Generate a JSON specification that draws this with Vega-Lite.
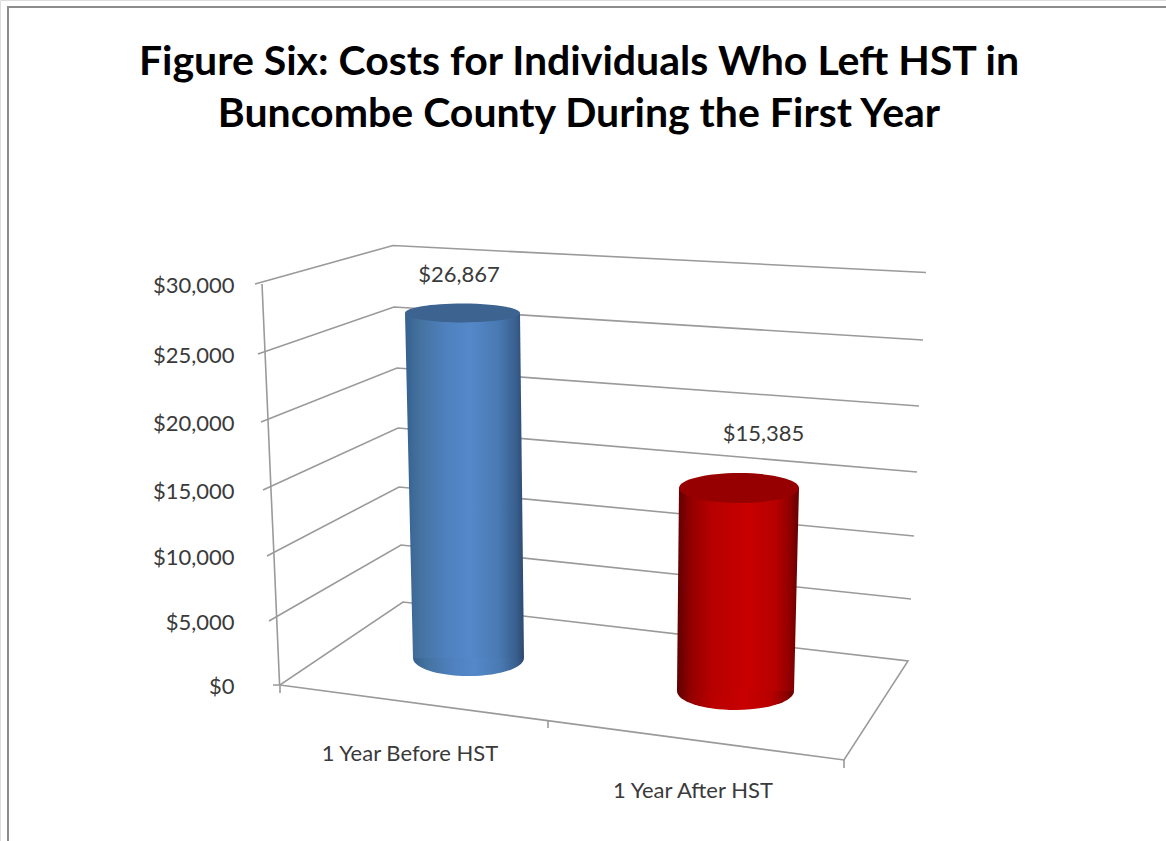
{
  "$schema": "https://vega.github.io/schema/vega-lite/v6.json",
  "width": 1166,
  "height": 841,
  "padding": 0,
  "autosize": {"type": "none"},
  "background": "white",
  "title": {
    "text": ["Figure Six: Costs for Individuals Who Left HST in", "Buncombe County During the First Year"],
    "font": "Lato",
    "fontSize": 41,
    "fontWeight": "bold",
    "color": "#000000",
    "anchor": "middle",
    "frame": "group",
    "baseline": "alphabetic",
    "lineHeight": 52,
    "offset": -168,
    "dx": -4
  },
  "resolve": {"scale": {"y": "independent"}, "axis": {"y": "independent"}},
  "layer": [
    {
      "description": "Chart frame, back walls, floor and category labels in projected sheet coordinates",
      "layer": [
        {
          "data": {"values": [
            {"segment": "frame", "i": 0, "across": 8, "sheet": 841},
            {"segment": "frame", "i": 1, "across": 8, "sheet": 7},
            {"segment": "frame", "i": 2, "across": 1166, "sheet": 7}
          ]},
          "mark": {"type": "line", "stroke": "#8c8c8c", "strokeWidth": 2},
          "encoding": {
            "x": {"field": "across", "type": "quantitative", "scale": {"domain": [0, 1166], "nice": false, "zero": false}, "axis": null},
            "y": {"field": "sheet", "type": "quantitative", "scale": {"domain": [841, 0], "nice": false, "zero": false}, "axis": null},
            "detail": {"field": "segment"},
            "order": {"field": "i"}
          }
        },
        {
          "data": {"values": [
            {"segment": "g30000", "i": 0, "across": 255, "sheet": 284},
            {"segment": "g30000", "i": 1, "across": 393, "sheet": 245.5},
            {"segment": "g30000", "i": 2, "across": 926, "sheet": 272.5},
            {"segment": "g25000", "i": 0, "across": 258, "sheet": 354},
            {"segment": "g25000", "i": 1, "across": 394, "sheet": 307},
            {"segment": "g25000", "i": 2, "across": 923, "sheet": 340},
            {"segment": "g20000", "i": 0, "across": 261, "sheet": 422},
            {"segment": "g20000", "i": 1, "across": 397, "sheet": 368},
            {"segment": "g20000", "i": 2, "across": 919, "sheet": 406},
            {"segment": "g15000", "i": 0, "across": 263, "sheet": 490},
            {"segment": "g15000", "i": 1, "across": 398, "sheet": 428},
            {"segment": "g15000", "i": 2, "across": 917, "sheet": 472},
            {"segment": "g10000", "i": 0, "across": 267, "sheet": 556},
            {"segment": "g10000", "i": 1, "across": 399, "sheet": 487},
            {"segment": "g10000", "i": 2, "across": 914, "sheet": 536},
            {"segment": "g5000", "i": 0, "across": 269, "sheet": 621},
            {"segment": "g5000", "i": 1, "across": 401, "sheet": 545},
            {"segment": "g5000", "i": 2, "across": 911, "sheet": 599},
            {"segment": "floor", "i": 0, "across": 273, "sheet": 685},
            {"segment": "floor", "i": 1, "across": 280, "sheet": 685},
            {"segment": "floor", "i": 2, "across": 403, "sheet": 602},
            {"segment": "floor", "i": 3, "across": 908, "sheet": 661},
            {"segment": "floor", "i": 4, "across": 844, "sheet": 760},
            {"segment": "floor", "i": 5, "across": 280, "sheet": 685},
            {"segment": "tick0", "i": 0, "across": 280, "sheet": 685},
            {"segment": "tick0", "i": 1, "across": 280, "sheet": 693},
            {"segment": "tick1", "i": 0, "across": 548, "sheet": 720},
            {"segment": "tick1", "i": 1, "across": 548, "sheet": 728},
            {"segment": "tick2", "i": 0, "across": 844, "sheet": 760},
            {"segment": "tick2", "i": 1, "across": 844, "sheet": 768}
          ]},
          "mark": {"type": "line", "stroke": "#9a9a9a", "strokeWidth": 1.6},
          "encoding": {
            "x": {"field": "across", "type": "quantitative", "axis": null},
            "y": {"field": "sheet", "type": "quantitative", "axis": null},
            "detail": {"field": "segment"},
            "order": {"field": "i"}
          }
        },
        {
          "data": {"values": [
            {"category": "1 Year Before HST", "across": 410, "sheet": 754},
            {"category": "1 Year After HST", "across": 693, "sheet": 791}
          ]},
          "mark": {"type": "text", "font": "Lato", "fontSize": 22, "color": "#3a3a3a", "align": "center", "baseline": "middle"},
          "encoding": {
            "x": {"field": "across", "type": "quantitative", "axis": null},
            "y": {"field": "sheet", "type": "quantitative", "axis": null},
            "text": {"field": "category"}
          }
        }
      ]
    },
    {
      "description": "Vertical cost axis, foreshortened towards the floor",
      "data": {"values": [
        {"cost": 0, "across": 279.6},
        {"cost": 5000, "across": 276.8},
        {"cost": 10000, "across": 274},
        {"cost": 15000, "across": 271},
        {"cost": 20000, "across": 268.1},
        {"cost": 25000, "across": 265.1},
        {"cost": 30000, "across": 262}
      ]},
      "mark": {"type": "line", "stroke": "#9a9a9a", "strokeWidth": 1.6},
      "encoding": {
        "x": {"field": "across", "type": "quantitative", "axis": null},
        "y": {
          "field": "cost",
          "type": "quantitative",
          "sort": null,
          "scale": {"domain": [0, 5000, 10000, 15000, 20000, 25000, 30000], "range": [685, 621, 556, 490, 422, 354, 284], "nice": false, "zero": false},
          "axis": {
            "orient": "left",
            "values": [0, 5000, 10000, 15000, 20000, 25000, 30000],
            "format": "$,d",
            "title": null,
            "domain": false,
            "ticks": false,
            "grid": false,
            "offset": -234,
            "labelPadding": 0,
            "labelOffset": 1,
            "labelFont": "Lato",
            "labelFontSize": 22,
            "labelColor": "#3a3a3a",
            "labelOverlap": false,
            "labelFlush": false,
            "encoding": {"labels": {"update": {"dx": {"signal": "(30000 - datum.value) / 30000 * 16"}}}}
          }
        },
        "order": {"field": "cost"}
      }
    },
    {
      "description": "Cylinder for the year before HST, heights on its own depth-adjusted cost scale",
      "data": {"values": [
        {"period": "1 Year Before HST", "cost": 0, "left": 413, "right": 524, "centre": 468.5, "labelAcross": 459},
        {"period": "1 Year Before HST", "cost": 26867, "left": 405, "right": 520, "centre": 462.5, "labelAcross": 459}
      ]},
      "encoding": {
        "y": {"field": "cost", "type": "quantitative", "scale": {"domain": [-14251, 51242], "nice": false, "zero": false}, "axis": null}
      },
      "layer": [
        {
          "transform": [{"filter": "datum.cost === 0"}],
          "mark": {
            "type": "point", "filled": true, "opacity": 1, "strokeWidth": 0, "size": 12321,
            "shape": "M-1,0 A1,0.325 0 1 1 1,0 A1,0.325 0 1 1 -1,0 Z",
            "fill": {"gradient": "linear", "x1": 0, "x2": 1, "y1": 0, "y2": 0, "stops": [
              {"offset": 0, "color": "#35608f"}, {"offset": 0.12, "color": "#44729f"}, {"offset": 0.35, "color": "#4f81bf"},
              {"offset": 0.55, "color": "#5488ca"}, {"offset": 0.78, "color": "#4a7ab3"}, {"offset": 0.93, "color": "#39608f"}, {"offset": 1, "color": "#2c4a70"}
            ]}
          },
          "encoding": {"x": {"field": "centre", "type": "quantitative", "axis": null}}
        },
        {
          "mark": {
            "type": "area", "orient": "horizontal", "opacity": 1,
            "fill": {"gradient": "linear", "x1": 0, "x2": 1, "y1": 0, "y2": 0, "stops": [
              {"offset": 0, "color": "#35608f"}, {"offset": 0.12, "color": "#44729f"}, {"offset": 0.35, "color": "#4f81bf"},
              {"offset": 0.55, "color": "#5488ca"}, {"offset": 0.78, "color": "#4a7ab3"}, {"offset": 0.93, "color": "#39608f"}, {"offset": 1, "color": "#2c4a70"}
            ]}
          },
          "encoding": {
            "x": {"field": "left", "type": "quantitative", "axis": null},
            "x2": {"field": "right"}
          }
        },
        {
          "transform": [{"filter": "datum.cost > 0"}],
          "mark": {
            "type": "point", "filled": true, "opacity": 1, "strokeWidth": 0, "size": 13225, "fill": "#3d6491",
            "shape": "M-1,0 A1,0.165 0 1 1 1,0 A1,0.165 0 1 1 -1,0 Z"
          },
          "encoding": {"x": {"field": "centre", "type": "quantitative", "axis": null}}
        },
        {
          "transform": [{"filter": "datum.cost > 0"}],
          "mark": {"type": "text", "font": "Lato", "fontSize": 22, "color": "#3a3a3a", "align": "center", "baseline": "middle", "dy": -38},
          "encoding": {
            "x": {"field": "labelAcross", "type": "quantitative", "axis": null},
            "text": {"field": "cost", "type": "quantitative", "format": "$,d"}
          }
        }
      ]
    },
    {
      "description": "Cylinder for the year after HST, heights on its own depth-adjusted cost scale",
      "data": {"values": [
        {"period": "1 Year After HST", "cost": 0, "left": 677, "right": 794, "centre": 735.5, "labelAcross": 763.5},
        {"period": "1 Year After HST", "cost": 15385, "left": 679, "right": 799, "centre": 739, "labelAcross": 763.5}
      ]},
      "encoding": {
        "y": {"field": "cost", "type": "quantitative", "scale": {"domain": [-11368, 52368], "nice": false, "zero": false}, "axis": null}
      },
      "layer": [
        {
          "transform": [{"filter": "datum.cost === 0"}],
          "mark": {
            "type": "point", "filled": true, "opacity": 1, "strokeWidth": 0, "size": 13689,
            "shape": "M-1,0 A1,0.325 0 1 1 1,0 A1,0.325 0 1 1 -1,0 Z",
            "fill": {"gradient": "linear", "x1": 0, "x2": 1, "y1": 0, "y2": 0, "stops": [
              {"offset": 0, "color": "#5e0000"}, {"offset": 0.12, "color": "#950000"}, {"offset": 0.3, "color": "#b80000"},
              {"offset": 0.58, "color": "#c80000"}, {"offset": 0.8, "color": "#b80000"}, {"offset": 0.93, "color": "#8e0000"}, {"offset": 1, "color": "#640000"}
            ]}
          },
          "encoding": {"x": {"field": "centre", "type": "quantitative", "axis": null}}
        },
        {
          "mark": {
            "type": "area", "orient": "horizontal", "opacity": 1,
            "fill": {"gradient": "linear", "x1": 0, "x2": 1, "y1": 0, "y2": 0, "stops": [
              {"offset": 0, "color": "#5e0000"}, {"offset": 0.12, "color": "#950000"}, {"offset": 0.3, "color": "#b80000"},
              {"offset": 0.58, "color": "#c80000"}, {"offset": 0.8, "color": "#b80000"}, {"offset": 0.93, "color": "#8e0000"}, {"offset": 1, "color": "#640000"}
            ]}
          },
          "encoding": {
            "x": {"field": "left", "type": "quantitative", "axis": null},
            "x2": {"field": "right"}
          }
        },
        {
          "transform": [{"filter": "datum.cost > 0"}],
          "mark": {
            "type": "point", "filled": true, "opacity": 1, "strokeWidth": 0, "size": 14400, "fill": "#960000",
            "shape": "M-1,0 A1,0.25 0 1 1 1,0 A1,0.25 0 1 1 -1,0 Z"
          },
          "encoding": {"x": {"field": "centre", "type": "quantitative", "axis": null}}
        },
        {
          "transform": [{"filter": "datum.cost > 0"}],
          "mark": {"type": "text", "font": "Lato", "fontSize": 22, "color": "#3a3a3a", "align": "center", "baseline": "middle", "dy": -54},
          "encoding": {
            "x": {"field": "labelAcross", "type": "quantitative", "axis": null},
            "text": {"field": "cost", "type": "quantitative", "format": "$,d"}
          }
        }
      ]
    }
  ]
}
